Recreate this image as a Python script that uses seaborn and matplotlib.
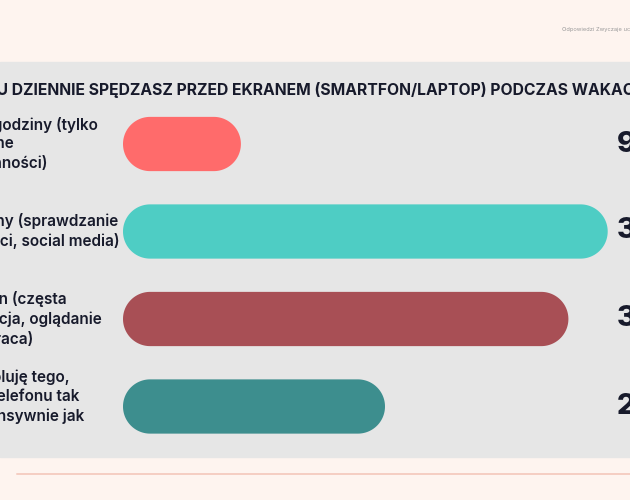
import seaborn as sns
import numpy as np
import pandas as pd
import matplotlib.pyplot as plt
from matplotlib.patches import Polygon, Rectangle
from matplotlib.lines import Line2D

# data (share of answers, %)
answers = [
    "1-2 godziny (tylko\nważne\nczynności)",
    "2-4 godziny (sprawdzanie\nwiadomości, social media)",
    "4-6 godzin (częsta\nkomunikacja, oglądanie\nfilmów, praca)",
    "Nie kontroluję tego,\nużywam telefonu tak\nsamo intensywnie jak\nzwykle",
]
shares = [9, 37, 34, 20]
value_labels = ["9%", "37%", "34%", "20%"]
bar_colors = ["#FF6B6B", "#4ECDC4", "#A84F55", "#3D8E8E"]
title = "ILE CZASU DZIENNIE SPĘDZASZ PRZED EKRANEM (SMARTFON/LAPTOP) PODCZAS WAKACJI?"
source = "Odpowiedzi Zwyczaje uczniów"

df = pd.DataFrame({"answer": answers, "share": shares})

sns.set_theme(style="white")
plt.rcParams['font.family'] = ['Inter', 'DejaVu Sans']
ink = "#171A2B"

W, H = 630, 500
fig = plt.figure(figsize=(W / 100, H / 100), dpi=100, facecolor="#FEF4EF")

def fx(x):
    return x / W

def fy(y):
    return 1 - y / H

# grey panel and footer rule
fig.add_artist(Rectangle((0, fy(457)), 1, (457 - 62) / H, transform=fig.transFigure,
                         color="#E6E6E6", zorder=0))
fig.add_artist(Line2D([fx(17), 1], [fy(474), fy(474)], transform=fig.transFigure,
                      color="#F5CDC2", lw=1.4))

ax = fig.add_axes([fx(123), fy(457), (W - 123) / W, (457 - 62) / H])
ax.patch.set_alpha(0)
sns.barplot(data=df, x="share", y="answer", hue="answer", palette=bar_colors,
            saturation=1, width=0.62, legend=False, ax=ax)
px_per_unit = 13.1
row_px = 87.5
ax.set_xlim(0, (W - 123) / px_per_unit)
ax.set_ylim((457 - 144) / row_px, (62 - 144) / row_px)
ax.set_axis_off()

# turn the bars into pills (half-circle ends)
for p in list(ax.patches):
    x, y, w, h = p.get_x(), p.get_y(), p.get_width(), p.get_height()
    ry = h / 2
    rx = ry * row_px / px_per_unit
    cy = y + ry
    t = np.linspace(-np.pi / 2, np.pi / 2, 60)
    right = np.column_stack([x + w - rx + rx * np.cos(t), cy + ry * np.sin(t)])
    left = np.column_stack([x + rx - rx * np.cos(t), cy - ry * np.sin(t)])
    pill = Polygon(np.vstack([right, left]), closed=True,
                   facecolor=p.get_facecolor(), edgecolor="none")
    p.remove()
    ax.add_patch(pill)

# texts
fig.text(fx(562), fy(29), source, fontsize=4.1, color="#9A9A9A", va="center")

renderer = fig.canvas.get_renderer()
hidden = fig.text(0, 0, "ILE CZAS", fontsize=11.3, fontweight="bold")
shift = hidden.get_window_extent(renderer).width
hidden.remove()
fig.text(fx(-shift - 3), fy(90), title, fontsize=11.3, fontweight="bold",
         color=ink, va="center")

label_x = [-34, -76, -73, -75]
centers = [144, 231, 319, 406]
for lab, lx, cy in zip(answers, label_x, centers):
    fig.text(fx(lx), fy(cy), lab, fontsize=11, fontweight="semibold", color=ink,
             va="center", ha="left", linespacing=1.3)
for v, cy in zip(value_labels, centers):
    fig.text(fx(617), fy(cy), v, fontsize=21, fontweight="heavy", color=ink,
             va="center", ha="left")

plt.savefig("out.png", dpi=100)
